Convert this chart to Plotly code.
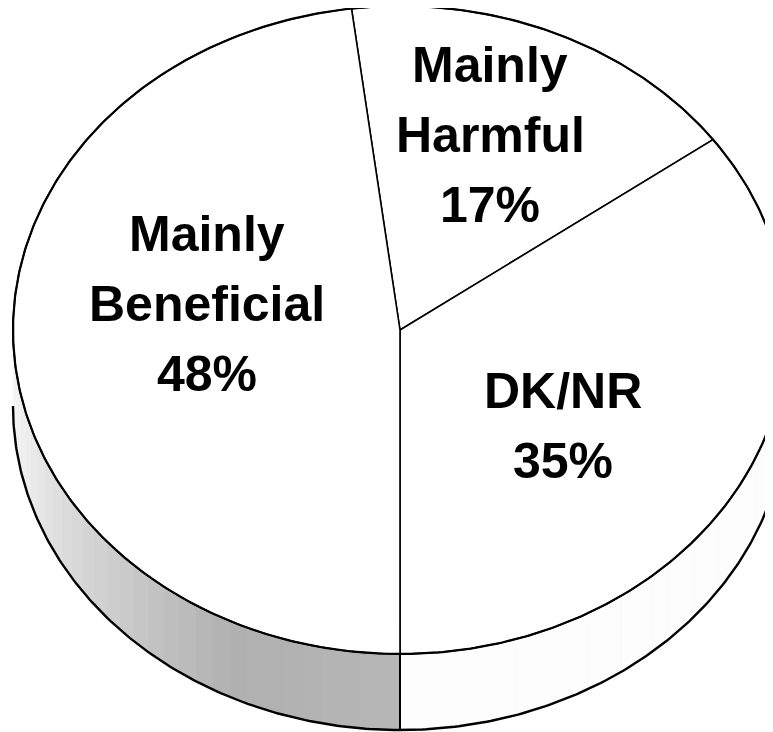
import numpy as np
import plotly.graph_objects as go

# ---- data ----
categories = ["Mainly Harmful", "DK/NR", "Mainly Beneficial"]
values = [17, 35, 48]
label_names = [["Mainly", "Harmful"], ["DK/NR"], ["Mainly", "Beneficial"]]

# ---- geometry / style ----
W, H = 773, 732
OFF = 8                    # page body margin offset
CX, CY = 400, 330          # centre of top face (px on screen)
RX, RY = 387, 324          # semi axes of top face
DEPTH = 76                 # 3D extrusion
ROTATION = -7.2            # first slice starts this many degrees from 12 o'clock
LINE_GAP = 70
FONT_SIZE = 50
# first-line baseline position of each label (px)
label_pos = [(490, 83), (563, 409), (207, 252)]


def ell(theta, dy=0.0, r=1.0):
    t = np.radians(theta)
    return CX + r * RX * np.sin(t), CY - r * RY * np.cos(t) + dy


fig = go.Figure()

# slice angle spans (clockwise from 12 o'clock)
total = float(sum(values))
starts, ends = [], []
a = ROTATION
for v in values:
    starts.append(a)
    a += 360.0 * v / total
    ends.append(a)

# shading along the visible side of each slice
def side_gray(theta, idx):
    if categories[idx] == "Mainly Beneficial":
        lvl = np.interp(theta, [180, 205, 230, 255, 270], [182, 176, 208, 238, 248])
    else:
        lvl = 253
    lvl = int(round(lvl))
    return f"rgb({lvl},{lvl},{lvl})"

# side (visible between 90 and 270 degrees)
for i, (s, e) in enumerate(zip(starts, ends)):
    s2, e2 = s % 360, (e - 1e-9) % 360 + 1e-9
    if e2 < s2:
        e2 += 360
    lo, hi = max(s2, 90), min(e2, 270)
    if hi <= lo:
        continue
    edges = np.linspace(lo, hi, int((hi - lo) / 3) + 2)
    for ta, tb in zip(edges[:-1], edges[1:]):
        th = np.linspace(ta, tb, 8)
        xt, yt = ell(th)
        xb, yb = ell(th[::-1], dy=DEPTH)
        col = side_gray((ta + tb) / 2, i)
        fig.add_trace(go.Scatter(
            x=np.concatenate([xt, xb, xt[:1]]), y=np.concatenate([yt, yb, yt[:1]]),
            mode="lines", fill="toself", fillcolor=col,
            line=dict(color=col, width=0.8), hoverinfo="skip"))

# side outlines: bottom edge and vertical edges at slice boundaries
th = np.linspace(90, 270, 300)
xb, yb = ell(th, dy=DEPTH)
fig.add_trace(go.Scatter(x=xb, y=yb, mode="lines",
                         line=dict(color="black", width=2.4), hoverinfo="skip"))
for s in starts:
    sn = s % 360
    if 90 < sn < 270:
        x0, y0 = ell(sn)
        x1, y1 = ell(sn, dy=DEPTH)
        fig.add_trace(go.Scatter(x=[x0, x1], y=[y0, y1], mode="lines",
                                 line=dict(color="black", width=2), hoverinfo="skip"))

# top face slices
for i, (s, e) in enumerate(zip(starts, ends)):
    th = np.linspace(s, e, 200)
    xa, ya = ell(th)
    fig.add_trace(go.Scatter(
        x=np.concatenate([[CX], xa, [CX]]), y=np.concatenate([[CY], ya, [CY]]),
        mode="lines", fill="toself", fillcolor="white",
        line=dict(color="black", width=1.6), name=categories[i], hoverinfo="skip"))

# outer rim of top face
th = np.linspace(0, 360, 600)
xo, yo = ell(th)
fig.add_trace(go.Scatter(x=xo, y=yo, mode="lines",
                         line=dict(color="black", width=2.2), hoverinfo="skip"))

# labels
for i, v in enumerate(values):
    lines = label_names[i] + [f"{v}%"]
    lx, ly = label_pos[i]
    for k, txt in enumerate(lines):
        fig.add_annotation(
            x=lx, y=ly + k * LINE_GAP - 18, xref="x", yref="y",
            text=txt, showarrow=False, xanchor="center", yanchor="middle",
            font=dict(family="Liberation Sans, Arial, sans-serif", size=FONT_SIZE,
                      color="black", weight="bold"))

fig.update_layout(
    width=W, height=H, margin=dict(l=0, r=0, t=0, b=0),
    paper_bgcolor="white", plot_bgcolor="white", showlegend=False,
    xaxis=dict(range=[OFF, W + OFF], visible=False, fixedrange=True),
    yaxis=dict(range=[H + OFF, OFF], visible=False, fixedrange=True),
)

fig.write_html("out.html")
